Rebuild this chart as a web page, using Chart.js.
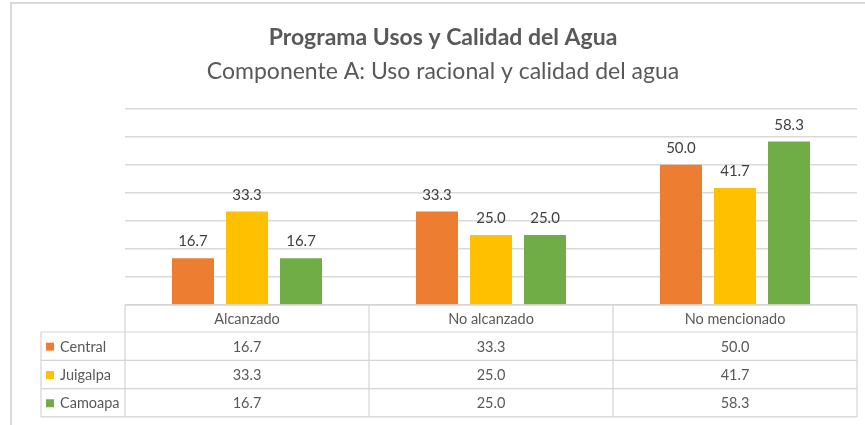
<!DOCTYPE html>
<html>
<head>
<meta charset="utf-8">
<script src="https://cdn.jsdelivr.net/npm/chart.js@4"></script>
<style>
  html, body { margin: 0; padding: 0; background: #fff; }
  #wrap { position: relative; width: 865px; height: 425px; }
</style>
</head>
<body>
<div id="wrap"><canvas id="c" width="865" height="425"></canvas></div>
<script>
const titleText = "Programa Usos y Calidad del Agua";
const subtitleText = "Componente A: Uso racional y calidad del agua";
const categories = ["Alcanzado", "No alcanzado", "No mencionado"];
const seriesNames = ["Central", "Juigalpa", "Camoapa"];
const central = [16.7, 33.3, 50.0];
const juigalpa = [33.3, 25.0, 41.7];
const camoapa = [16.7, 25.0, 58.3];
const seriesColors = ["#ED7D31", "#FFC000", "#70AD47"];
const yMax = 70;
const yStep = 10;

const FONT = "Lato, 'Open Sans', sans-serif";
const GRID = "#d9d9d9";
const TEXT = "#595959";

const frame = {
  id: "frame",
  beforeDraw(chart) {
    const ctx = chart.ctx;
    ctx.save();
    ctx.strokeStyle = "#d9d9d9";
    ctx.lineWidth = 2;
    ctx.beginPath();
    ctx.moveTo(11, 425);
    ctx.lineTo(11, 3);
    ctx.lineTo(865, 3);
    ctx.stroke();
    ctx.restore();
  }
};

const barLabels = {
  id: "barLabels",
  afterDatasetsDraw(chart) {
    const ctx = chart.ctx;
    ctx.save();
    ctx.font = "15px " + FONT;
    ctx.fillStyle = "#404040";
    ctx.textAlign = "center";
    ctx.textBaseline = "alphabetic";
    chart.data.datasets.forEach((ds, i) => {
      chart.getDatasetMeta(i).data.forEach((bar, j) => {
        ctx.fillText(ds.data[j].toFixed(1), bar.x, bar.y - 12);
      });
    });
    ctx.restore();
  }
};

const dataTable = {
  id: "dataTable",
  afterDraw(chart) {
    const ctx = chart.ctx;
    const xs = chart.scales.x;
    const area = chart.chartArea;
    const n = categories.length;
    const w = (area.right - area.left) / n;
    const bounds = [];
    for (let i = 0; i <= n; i++) bounds.push(area.left + i * w);
    const top = area.bottom;
    const headerH = 27;
    const rowH = 28.3;
    const labelLeft = 41;
    ctx.save();
    ctx.strokeStyle = "#d4d4d4";
    ctx.lineWidth = 1.2;
    ctx.beginPath();
    ctx.moveTo(area.left, top); ctx.lineTo(area.right, top);
    for (let r = 0; r <= seriesNames.length; r++) {
      const y = top + headerH + r * rowH;
      ctx.moveTo(labelLeft, y); ctx.lineTo(area.right, y);
    }
    const bottom = top + headerH + seriesNames.length * rowH;
    bounds.forEach(x => { ctx.moveTo(x, top); ctx.lineTo(x, bottom); });
    ctx.moveTo(labelLeft, top + headerH); ctx.lineTo(labelLeft, bottom);
    ctx.stroke();

    ctx.font = "14.5px " + FONT;
    ctx.fillStyle = TEXT;
    ctx.textBaseline = "middle";
    ctx.textAlign = "center";
    categories.forEach((c, j) => {
      ctx.fillText(c, xs.getPixelForValue(j), top + headerH / 2 + 1);
    });
    chart.data.datasets.forEach((ds, i) => {
      const yc = top + headerH + i * rowH + rowH / 2 + 1;
      ctx.fillStyle = seriesColors[i];
      ctx.fillRect(46, yc - 4.5, 8, 8);
      ctx.fillStyle = TEXT;
      ctx.textAlign = "left";
      ctx.fillText(ds.label, 60, yc);
      ctx.textAlign = "center";
      ds.data.forEach((v, j) => {
        ctx.fillText(v.toFixed(1), xs.getPixelForValue(j), yc);
      });
    });
    ctx.restore();
  }
};

const seriesData = [central, juigalpa, camoapa];

new Chart(document.getElementById("c"), {
  type: "bar",
  data: {
    labels: categories,
    datasets: seriesNames.map((name, i) => ({
      label: name,
      data: seriesData[i],
      backgroundColor: seriesColors[i],
      borderWidth: 0,
      categoryPercentage: 0.664,
      barPercentage: 0.778
    }))
  },
  options: {
    responsive: false,
    animation: false,
    events: [],
    layout: { padding: { left: 29, right: 8, top: 0, bottom: 120 } },
    plugins: {
      legend: { display: false },
      tooltip: { enabled: false },
      title: {
        display: true,
        text: titleText,
        color: TEXT,
        font: { family: FONT, size: 23, weight: "bold", lineHeight: 1.2 },
        padding: { top: 24, bottom: 6 }
      },
      subtitle: {
        display: true,
        text: subtitleText,
        color: TEXT,
        font: { family: FONT, size: 23, weight: "normal", lineHeight: 1.2 },
        padding: { top: 0, bottom: 23.5 }
      }
    },
    scales: {
      x: {
        display: false,
        grid: { display: false }
      },
      y: {
        min: 0,
        max: yMax,
        afterFit(scale) { scale.width = 96; },
        ticks: { display: false, stepSize: yStep },
        border: { display: false },
        grid: { color: GRID, lineWidth: 1.5, drawTicks: false }
      }
    }
  },
  plugins: [frame, barLabels, dataTable]
});
</script>
</body>
</html>
